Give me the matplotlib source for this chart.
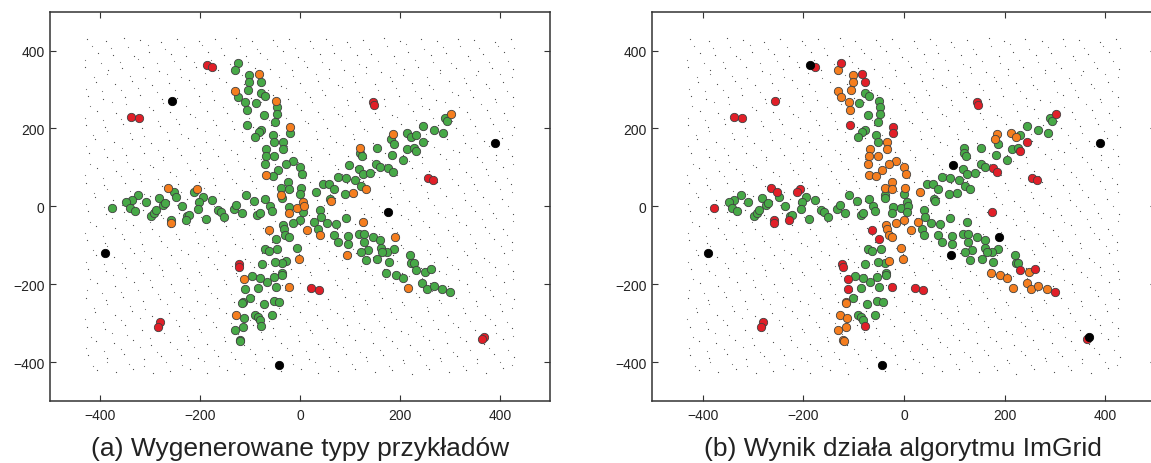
import matplotlib
matplotlib.use("Agg")
import matplotlib.pyplot as plt

plt.rcParams["font.family"] = ["Liberation Sans", "DejaVu Sans"]

# labels: S = safe (green), B = borderline (orange), R = rare (red), O = outlier (black)
# upper-left arm
ux = [-187, -177, -125, -131, -102, -83, -102, -78, -105, -131,
      -125, -78, -70, -49, -110, -89, -107, -47, -72, -47,
      -51, -107, -21, -21, -78, -83, -91, -55, -52, -34,
      -34, -68, -69, -52, -71, -15, -29, -1, -44, 3,
      -69, -55, -24, -38, -23, 1, -38, -37, -1, -109,
      -70]
uy = [364, 357, 368, 351, 337, 340, 319, 320, 299, 297,
      280, 291, 284, 271, 267, 266, 248, 255, 235, 236,
      217, 210, 203, 188, 196, 190, 179, 183, 166, 166,
      147, 147, 129, 129, 110, 117, 108, 102, 93, 83,
      81, 77, 62, 46, 45, 46, 29, 21, 33, 29,
      19]
ua = "RRSSSBSSSB" "SSSBSSSSSS" "SSBSSSSSSS" "SSSSSSSSSS" "BSSSSSBSSS" "S"
ub = "ORRBBRBRBB" "BSSSBSBSSS" "SRRRSSSSSB" "BBBBBBBBBB" "BBBBBBSSSS" "S"

# left arm
lx = [-338, -322, -264, -207, -253, -213, -248, -195, -324, -283,
      -337, -377, -348, -341, -309, -331, -275, -270, -237, -202,
      -177, -298, -293, -288, -259, -258, -227, -223, -229, -204,
      -188, -164, -158, -152, -133, -128, -117, -93, -86, -81,
      -61, -57]
ly = [230, 228, 48, 45, 38, 37, 24, 25, 30, 22,
      16, -5, 12, -4, 10, -13, 4, 9, 2, 10,
      16, -26, -17, -10, -34, -44, -26, -22, -34, -7,
      -32, -9, -15, -27, -7, 4, -17, 15, -22, -18,
      2, -12]
la = "RRBBSSSSSS" "SSSSSSSSSS" "SSSSSBSSSS" "SSSSSSSSSS" "SS"
lb = "RRRRRRSSSS" "SRSSSSSSSS" "SSSSRRSSRS" "SSSSSSSSSS" "SS"

# centre
cx = [-22, -23, -7, 6, 7, 6, 40, 42, 27, 53,
      -1, -15, 72, 92, 125, -63, -35, -33, -30, -23,
      13, 35, 40, 67, 76, 95, 95, 118, 127, 127,
      145, 189, 160, 161, 187, 174, 164, 135, 121, 131,
      154, 93]
cy = [-2, -17, -3, 10, 0, -15, -10, -27, -39, -43,
      -36, -44, -46, -30, -40, -62, -47, -57, -73, -80,
      -61, -58, -74, -73, -92, -77, -96, -70, -70, -92,
      -80, -80, -87, -106, -110, -118, -118, -113, -118, -138,
      -134, -125]
ca = "SBBBBSSSSS" "SSSSBBSSSS" "BSBSSSSSSS" "SBSSSSSSSS" "SB"
cb = "SSSSSSSSBS" "BBSSSRBBBB" "BSSSSSSSSS" "SOSSSSSSSS" "SO"

# lower arm
dx = [-49, -46, -71, -63, -7, -3, -29, -37, -51, -77,
      -123, -122, -36, -36, -53, -67, -81, -97, -112, -111,
      -85, -49, -23, 22, 38, -101, -115, -116, -73, -53,
      -42, -128, -113, -91, -85, -81, -57, -78, -115, -131,
      -121, -120, -281, -285, -43]
dy = [-84, -109, -110, -115, -106, -136, -140, -145, -143, -148,
      -149, -155, -171, -176, -182, -195, -185, -178, -186, -212,
      -209, -208, -208, -209, -215, -235, -246, -249, -251, -244,
      -246, -279, -287, -278, -283, -291, -279, -308, -311, -317,
      -343, -347, -298, -311, -407]
da = "SSSSSBSSSS" "RRSSSSSSBS" "SSBRRSSSSS" "SBSSSSSSSS" "SSRRO"
db = "RSSSBBBSSS" "RRSSSSSSRR" "SSRRRSBBSS" "SBBSSSSRBB" "BBRRO"

# lower-right arm
ex = [220, 222, 227, 231, 249, 261, 177, 172, 191, 205,
      244, 253, 267, 283, 299, 216]
ey = [-125, -146, -146, -163, -169, -160, -144, -171, -177, -185,
      -196, -212, -204, -212, -221, -209]
ea = "SSSSSSSSSS" "SSSSSB"
eb = "SSSRBRSBBB" "BBBBRB"

# upper-right arm
rx = [145, 147, 301, 289, 293, 245, 267, 285, 185, 213,
      222, 231, 181, 187, 245, 119, 153, 119, 123, 214,
      227, 231, 183, 205, 97, 152, 160, 118, 126, 140,
      176, 185, 255, 265, 75, 92, 109, 122, 131, 45,
      57, 67, 31, 90, 105, 59, 61]
ry = [269, 261, 237, 227, 218, 206, 196, 189, 186, 188,
      177, 183, 173, 161, 166, 149, 150, 136, 129, 147,
      150, 141, 133, 119, 106, 110, 102, 96, 84, 85,
      99, 87, 74, 68, 75, 73, 67, 52, 45, 57,
      58, 45, 36, 33, 35, 19, 13]
ra = "RRBSSSSSBS" "SSSSSBSSSS" "SSSSSSSSSS" "SSRRSSSSBS" "SSSSBSB"
rb = "RRRSSSSSBB" "BSBSRSSSSS" "SRSSOSSSSS" "RRRRSSSSSS" "SSBSSSS"

# isolated points
ox = [-256, 390, 175, -390, 368, 363]
oy = [271, 164, -14, -120, -336, -342]
oa = "OOOORR"
ob = "ROROOR"

# background (unlabelled) points, first half
bg_x = [
    -426, -388, -352, -320, -278, -246, -203, -171, -128, -97, -55, -23, 19, 51, 93, 125, 168, 199, 241, 273, 316, 347, 390, 421,
    -405, -375, -333, -302, -258, -228, -184, -153, -109, -80, -35, -5, 39, 68, 114, 142, 188, 216, 262, 291, 336, 365, 408,
    -430, -385, -356, -314, -283, -240, -208, -165, -134, -91, -60, -17, 14, 57, 88, 131, 162, 207, 236, 280, 311, 355, 384, 426,
    -409, -371, -336, -297, -262, -223, -188, -148, -113, -74, -38, 0, 35, 75, 109, 149, 183, 223, 257, 298, 332, 372, 406,
    -424, -394, -350, -321, -276, -247, -202, -172, -128, -99, -54, -24, 20, 49, 94, 123, 168, 197, 242, 271, 316, 345, 390, 425,
    -406, -369, -335, -295, -261, -221, -187, -146, -112, -72, -39, 2, 36, 76, 110, 150, 184, 225, 258, 299, 333, 373, 407,
    -429, -390, -355, -316, -281, -242, -207, -168, -133, -94, -59, -20, 15, 54, 89, 128, 163, 202, 237, 276, 311, 350, 385, 428,
    -411, -373, -337, -299, -263, -225, -189, -151, -115, -77, -41, -3, 33, 71, 107, 145, 181, 219, 255, 293, 329, 367, 403,
    -423, -387, -349, -313, -275, -239, -201, -165, -127, -91, -53, -17, 21, 57, 95, 131, 169, 205, 243, 279, 317, 353, 391, 424,
    -407, -368, -334, -294, -260, -220, -186, -146, -112, -72, -38, 2, 36, 76, 110, 150, 184, 224, 258, 298, 332, 372, 406,
    -428, -392, -351, -318, -277, -244, -203, -170, -129, -96, -55, -22, 19, 52, 93, 126, 167, 200, 241, 274, 315, 348, 389, 422,
    -410, -374, -336, -300, -262, -226, -188, -152, -114, -78, -40, -4, 34, 70, 108, 144, 182, 218, 256, 292, 330, 366, 404,
    -425, -389, -352, -315, -279, -242, -204, -167, -131, -93, -57, -19, 17, 54, 90, 128, 164, 202, 238, 275, 312, 349, 386, 426,
    -408, -370, -334, -296, -260, -222, -186, -148, -112, -74, -38, 0, 36, 74, 110, 148, 184, 222, 258, 296, 332, 370, 406,
    -427, -391, -353, -317, -279, -243, -205, -169, -131, -95, -57, -21, 17, 53, 91, 127, 165, 201, 239, 275, 313, 349, 387, 423,
    -409, -372, -333, -298, -259, -224, -185, -150, -111, -76, -37, -2, 37, 72, 111, 146, 185, 220, 259, 294, 333, 368, 407,
    -424, -388, -350, -314, -276, -240, -202, -166, -128, -92, -54, -18, 20, 56, 94, 130, 168, 204, 242, 278, 316, 352, 390, 425,
    -406, -370, -332, -296, -258, -222, -184, -148, -110, -74, -36, 0, 38, 74, 112, 148, 186, 222, 260, 296, 334, 370, 408,
    -429, -389, -354, -315, -280, -241, -206, -167, -132, -93, -58, -19, 16, 55, 90, 129, 164, 203, 238, 277, 312, 351, 386, 427,
    -411, -371, -337, -297, -263, -223, -189, -149, -115, -75, -41, -1, 33, 73, 107, 147, 181, 221, 255, 295, 329, 369, 403,
    -426, -390, -351, -316, -277, -242, -203, -168, -129, -94, -55, -20, 19, 54, 93, 128, 167, 202, 241, 276, 315, 350, 389, 424,
    -408, -373, -335, -299, -261, -225, -187, -151, -113, -77, -39, -3, 35, 71, 109, 145, 183, 219, 257, 293, 331, 367, 405,
    -425, -387, -352, -313, -278, -239, -204, -165, -130, -91, -56, -17, 18, 57, 92, 131, 166, 205, 240, 279, 314, 353, 388, 428,
    -407, -369, -334, -295, -260, -221, -186, -147, -112, -73, -38, 1, 36, 75, 110, 149, 184, 223, 258, 297, 332, 371, 406,
]
bg_y = [
    430, 425, 432, 427, 423, 431, 426, 429, 433, 424, 428, 431, 425, 430, 422, 427, 432, 426, 429, 424, 431, 427, 423, 429,
    394, 388, 386, 397, 392, 385, 396, 390, 387, 393, 398, 384, 391, 395, 388, 392, 386, 397, 389, 393, 385, 391, 396,
    357, 350, 355, 359, 348, 353, 358, 351, 347, 356, 352, 349, 358, 354, 350, 357, 346, 353, 359, 351, 355, 348, 356, 352,
    320, 314, 322, 311, 318, 324, 313, 319, 315, 321, 310, 317, 323, 312, 319, 314, 321, 316, 311, 322, 318, 313, 320,
    283, 277, 281, 286, 275, 279, 284, 273, 282, 278, 285, 276, 280, 287, 274, 281, 277, 284, 279, 273, 286, 280, 276, 282,
    246, 240, 237, 248, 242, 236, 245, 239, 249, 241, 235, 247, 243, 238, 246, 240, 234, 244, 249, 237, 242, 247, 239,
    209, 203, 211, 200, 206, 212, 202, 208, 199, 205, 210, 204, 213, 201, 207, 198, 205, 211, 203, 208, 200, 206, 212, 204,
    172, 166, 174, 163, 170, 175, 165, 171, 168, 176, 162, 169, 174, 166, 172, 164, 170, 176, 167, 173, 163, 169, 175,
    136, 128, 133, 138, 126, 131, 137, 129, 134, 125, 132, 139, 127, 135, 130, 124, 137, 131, 128, 134, 139, 126, 133, 129,
    98, 91, 96, 101, 89, 94, 99, 92, 97, 88, 95, 100, 90, 96, 102, 89, 93, 98, 91, 97, 87, 95, 100,
    61, 55, 59, 64, 52, 58, 63, 54, 60, 66, 53, 57, 62, 55, 59, 65, 52, 61, 56, 63, 54, 58, 65, 57,
    24, 17, 22, 27, 15, 20, 26, 18, 23, 14, 21, 25, 16, 22, 28, 19, 24, 15, 21, 26, 17, 23, 19,
    -13, -19, -14, -9, -21, -16, -11, -20, -15, -8, -18, -13, -22, -16, -10, -19, -14, -23, -12, -17, -21, -11, -16, -20,
    -50, -56, -49, -59, -52, -47, -57, -51, -46, -55, -60, -48, -53, -58, -45, -51, -56, -49, -54, -60, -47, -52, -57,
    -87, -93, -84, -96, -89, -85, -94, -88, -97, -83, -91, -86, -95, -90, -84, -92, -87, -98, -85, -93, -88, -95, -83, -91,
    -124, -130, -121, -133, -126, -122, -131, -125, -134, -120, -128, -123, -132, -127, -121, -129, -124, -135, -122, -130, -125, -132, -120,
    -161, -167, -158, -170, -163, -159, -168, -162, -171, -157, -165, -160, -169, -164, -158, -166, -161, -172, -159, -167, -162, -169, -157, -165,
    -198, -204, -195, -207, -200, -196, -205, -199, -208, -194, -202, -197, -206, -201, -195, -203, -198, -209, -196, -204, -199, -206, -194,
    -235, -241, -232, -244, -237, -233, -242, -236, -245, -231, -239, -234, -243, -238, -232, -240, -235, -246, -233, -241, -236, -243, -231, -239,
    -272, -278, -269, -281, -274, -270, -279, -273, -282, -268, -276, -271, -280, -275, -269, -277, -272, -283, -270, -278, -273, -280, -268,
    -309, -315, -306, -318, -311, -307, -316, -310, -319, -305, -313, -308, -317, -312, -306, -314, -309, -320, -307, -315, -310, -317, -305, -313,
    -346, -352, -343, -355, -348, -344, -353, -347, -356, -342, -350, -345, -354, -349, -343, -351, -346, -357, -344, -352, -347, -354, -342,
    -383, -389, -380, -392, -385, -381, -390, -384, -393, -379, -387, -382, -391, -386, -380, -388, -383, -394, -381, -389, -384, -391, -379, -387,
    -420, -426, -417, -429, -422, -418, -427, -421, -430, -416, -424, -419, -428, -423, -417, -425, -420, -431, -418, -426, -421, -428, -416,
]

# background points, second half (rows between the first ones)
bg2_x = [
    -417, -379, -345, -305, -270, -232, -196, -158, -121, -86, -47, -10, 26, 64, 99, 137, 173, 211, 248, 285, 320, 358, 395, 428,
    -431, -398, -360, -325, -287, -252, -213, -178, -140, -104, -66, -30, 7, 44, 81, 118, 155, 191, 229, 266, 302, 339, 377, 415,
    -412, -386, -341, -311, -266, -238, -191, -163, -117, -89, -43, -15, 31, 58, 105, 132, 179, 206, 253, 279, 327, 352, 400, 424,
    -428, -396, -359, -324, -286, -251, -212, -177, -139, -103, -65, -29, 9, 44, 83, 118, 156, 192, 230, 265, 303, 339, 378, 413,
    -421, -377, -348, -302, -274, -228, -200, -154, -125, -79, -51, -6, 23, 68, 96, 142, 170, 216, 244, 289, 317, 362, 391, 425,
    -430, -395, -358, -322, -284, -249, -211, -175, -137, -102, -63, -28, 10, 45, 84, 119, 157, 193, 231, 266, 304, 340, 379, 414,
    -414, -387, -341, -312, -267, -238, -191, -162, -117, -88, -43, -14, 31, 60, 105, 134, 178, 207, 252, 281, 325, 354, 398, 423,
    -429, -393, -357, -321, -285, -247, -212, -174, -138, -101, -64, -27, 11, 46, 85, 120, 158, 194, 232, 267, 305, 341, 378, 415,
    -420, -375, -347, -300, -274, -226, -200, -152, -125, -78, -50, -5, 22, 69, 96, 143, 170, 217, 244, 291, 318, 363, 391, 426,
    -431, -394, -358, -321, -284, -248, -210, -175, -136, -101, -63, -28, 10, 46, 84, 119, 157, 193, 231, 268, 304, 341, 376, 414,
    -413, -386, -340, -312, -266, -238, -192, -163, -116, -89, -42, -14, 32, 59, 106, 133, 179, 206, 253, 280, 327, 353, 399, 424,
    -429, -393, -357, -320, -284, -246, -211, -173, -138, -100, -64, -27, 10, 47, 83, 121, 157, 194, 231, 268, 304, 342, 377, 415,
    -421, -376, -348, -301, -275, -227, -199, -153, -126, -79, -50, -4, 23, 69, 97, 142, 171, 216, 245, 290, 318, 364, 392, 425,
    -430, -394, -357, -321, -283, -248, -210, -174, -136, -101, -63, -28, 11, 46, 84, 120, 157, 193, 231, 267, 305, 340, 378, 414,
    -414, -386, -340, -313, -266, -239, -192, -164, -116, -90, -42, -15, 32, 58, 106, 132, 180, 205, 254, 279, 328, 352, 401, 423,
    -429, -393, -356, -320, -283, -247, -209, -173, -137, -100, -64, -27, 10, 47, 83, 121, 156, 194, 230, 268, 303, 341, 377, 415,
    -420, -375, -348, -300, -275, -226, -199, -152, -126, -78, -51, -5, 22, 69, 96, 143, 170, 217, 244, 291, 317, 364, 391, 426,
    -427, -397, -358, -325, -285, -252, -211, -178, -138, -104, -64, -30, 8, 43, 84, 117, 157, 191, 231, 264, 304, 338, 379, 412,
    -413, -387, -341, -311, -267, -237, -191, -163, -117, -89, -43, -15, 31, 59, 105, 133, 179, 207, 253, 281, 326, 353, 400, 424,
    -431, -394, -359, -321, -285, -248, -212, -174, -138, -101, -62, -27, 11, 44, 85, 118, 158, 192, 232, 265, 305, 339, 380, 413,
    -419, -376, -347, -301, -273, -227, -198, -153, -124, -79, -50, -4, 24, 68, 97, 142, 171, 215, 245, 290, 319, 363, 392, 425,
    -428, -392, -358, -320, -286, -246, -213, -173, -139, -100, -65, -26, 12, 45, 86, 119, 159, 193, 233, 266, 306, 340, 377, 416,
    -415, -386, -342, -312, -268, -237, -193, -162, -118, -88, -44, -14, 30, 60, 104, 134, 178, 208, 252, 282, 326, 354, 399, 423,
]
bg2_y = [
    412, 406, 409, 414, 405, 410, 415, 407, 411, 404, 413, 408, 406, 414, 409, 403, 411, 416, 405, 410, 413, 407, 412, 408,
    376, 369, 372, 378, 367, 374, 370, 377, 366, 372, 379, 368, 374, 370, 377, 365, 373, 369, 376, 371, 367, 375, 370, 374,
    331, 341, 336, 329, 340, 333, 342, 330, 338, 343, 332, 336, 341, 329, 335, 342, 331, 338, 333, 343, 330, 337, 341, 332,
    302, 296, 300, 305, 294, 299, 304, 297, 293, 301, 298, 303, 295, 300, 306, 293, 299, 304, 296, 301, 294, 299, 303, 297,
    257, 267, 262, 255, 266, 259, 268, 256, 264, 269, 258, 262, 267, 255, 261, 268, 257, 264, 259, 269, 256, 263, 267, 258,
    228, 221, 225, 230, 219, 225, 230, 222, 218, 226, 223, 228, 220, 225, 231, 218, 224, 229, 221, 226, 219, 224, 228, 222,
    183, 193, 188, 181, 192, 185, 194, 182, 190, 195, 184, 188, 193, 181, 187, 194, 183, 190, 185, 195, 182, 189, 193, 184,
    154, 147, 151, 156, 145, 151, 156, 148, 144, 152, 149, 154, 146, 151, 157, 144, 150, 155, 147, 152, 145, 150, 154, 148,
    109, 119, 114, 107, 118, 111, 120, 108, 116, 121, 110, 114, 119, 107, 113, 120, 109, 116, 111, 121, 108, 115, 119, 110,
    80, 73, 77, 82, 71, 77, 82, 74, 70, 78, 75, 80, 72, 77, 83, 70, 76, 81, 73, 78, 71, 76, 80, 74,
    35, 45, 40, 33, 44, 37, 46, 34, 42, 47, 36, 40, 45, 33, 39, 46, 35, 42, 37, 47, 34, 41, 45, 36,
    6, -1, 3, 8, -3, 3, 8, 0, -4, 4, 1, 6, -2, 3, 9, -4, 2, 7, -1, 4, -3, 2, 6, 0,
    -39, -29, -34, -41, -30, -37, -28, -40, -32, -27, -38, -34, -29, -41, -35, -28, -39, -32, -37, -27, -40, -33, -29, -38,
    -68, -75, -71, -66, -77, -71, -66, -74, -78, -70, -73, -68, -76, -71, -65, -78, -72, -67, -75, -70, -77, -72, -68, -74,
    -113, -103, -108, -115, -104, -111, -102, -114, -106, -101, -112, -108, -103, -115, -109, -102, -113, -106, -111, -101, -114, -107, -103, -112,
    -142, -149, -145, -140, -151, -145, -140, -148, -152, -144, -147, -142, -150, -145, -139, -152, -146, -141, -149, -144, -151, -146, -142, -148,
    -187, -177, -182, -189, -178, -185, -176, -188, -180, -175, -186, -182, -177, -189, -183, -176, -187, -180, -185, -175, -188, -181, -177, -186,
    -216, -223, -219, -214, -225, -219, -214, -222, -226, -218, -221, -216, -224, -219, -213, -226, -220, -215, -223, -218, -225, -220, -216, -222,
    -261, -251, -256, -263, -252, -259, -250, -262, -254, -249, -260, -256, -251, -263, -257, -250, -261, -254, -259, -249, -262, -255, -251, -260,
    -290, -297, -293, -288, -299, -293, -288, -296, -300, -292, -295, -290, -298, -293, -287, -300, -294, -289, -297, -292, -299, -294, -290, -296,
    -335, -325, -330, -337, -326, -333, -324, -336, -328, -323, -334, -330, -325, -337, -331, -324, -335, -328, -333, -323, -336, -329, -325, -334,
    -364, -371, -367, -362, -373, -367, -362, -370, -374, -366, -369, -364, -372, -367, -361, -374, -368, -363, -371, -366, -373, -368, -364, -370,
    -409, -399, -404, -411, -400, -407, -398, -410, -402, -397, -408, -404, -399, -411, -405, -398, -409, -402, -407, -397, -410, -403, -399, -408,
]

pts_x = ux + lx + cx + dx + ex + rx + ox
pts_y = uy + ly + cy + dy + ey + ry + oy
lab_a = ua + la + ca + da + ea + ra + oa
lab_b = ub + lb + cb + db + eb + rb + ob
assert len(pts_x) == len(pts_y) == len(lab_a) == len(lab_b)
assert len(bg_x) == len(bg_y) and len(bg2_x) == len(bg2_y)

colors = {"S": "#47a947", "B": "#f57e1f", "R": "#e11f28", "O": "#000000"}
edges = {"S": "#404040", "B": "#404040", "R": "#404040", "O": "#000000"}


def draw_panel(ax, labels):
    ax.scatter(bg_x, bg_y, s=0.8, c="#4a4a4a", marker="o", linewidths=0, zorder=1)
    ax.scatter(bg2_x, bg2_y, s=0.7, c="#707070", marker="o", linewidths=0, zorder=1)
    for k in "SBRO":
        xs = [x for x, l in zip(pts_x, labels) if l == k]
        ys = [y for y, l in zip(pts_y, labels) if l == k]
        ax.scatter(xs, ys, s=36, c=colors[k], edgecolors=edges[k], linewidths=0.6, zorder=2)
    ax.set_xlim(-500, 500); ax.set_ylim(-500, 500)
    ax.set_xticks([-400, -200, 0, 200, 400]); ax.set_yticks([-400, -200, 0, 200, 400])
    ax.tick_params(direction="in", top=True, right=True, length=4, width=0.8,
                   labelsize=10, colors="#333333", labelcolor="#222222")
    ax.tick_params(axis="x", pad=5); ax.tick_params(axis="y", pad=4)
    for sp in ax.spines.values():
        sp.set_color("#333333"); sp.set_linewidth(1.1)


fig = plt.figure(figsize=(11.51, 4.64), dpi=100)
ax1 = fig.add_axes([50 / 1151, 62 / 464, 500 / 1151, 389.3 / 464])
ax2 = fig.add_axes([652.3 / 1151, 62 / 464, 503.5 / 1151, 389.3 / 464])
draw_panel(ax1, lab_a)
draw_panel(ax2, lab_b)
fig.text(300 / 1151, 8 / 464, "(a) Wygenerowane typy przykładów", ha="center", va="baseline",
         fontsize=19, color="#222222")
fig.text(903 / 1151, 8 / 464, "(b) Wynik działa algorytmu ImGrid", ha="center", va="baseline",
         fontsize=19, color="#222222")
fig.savefig("out.png", dpi=100)
